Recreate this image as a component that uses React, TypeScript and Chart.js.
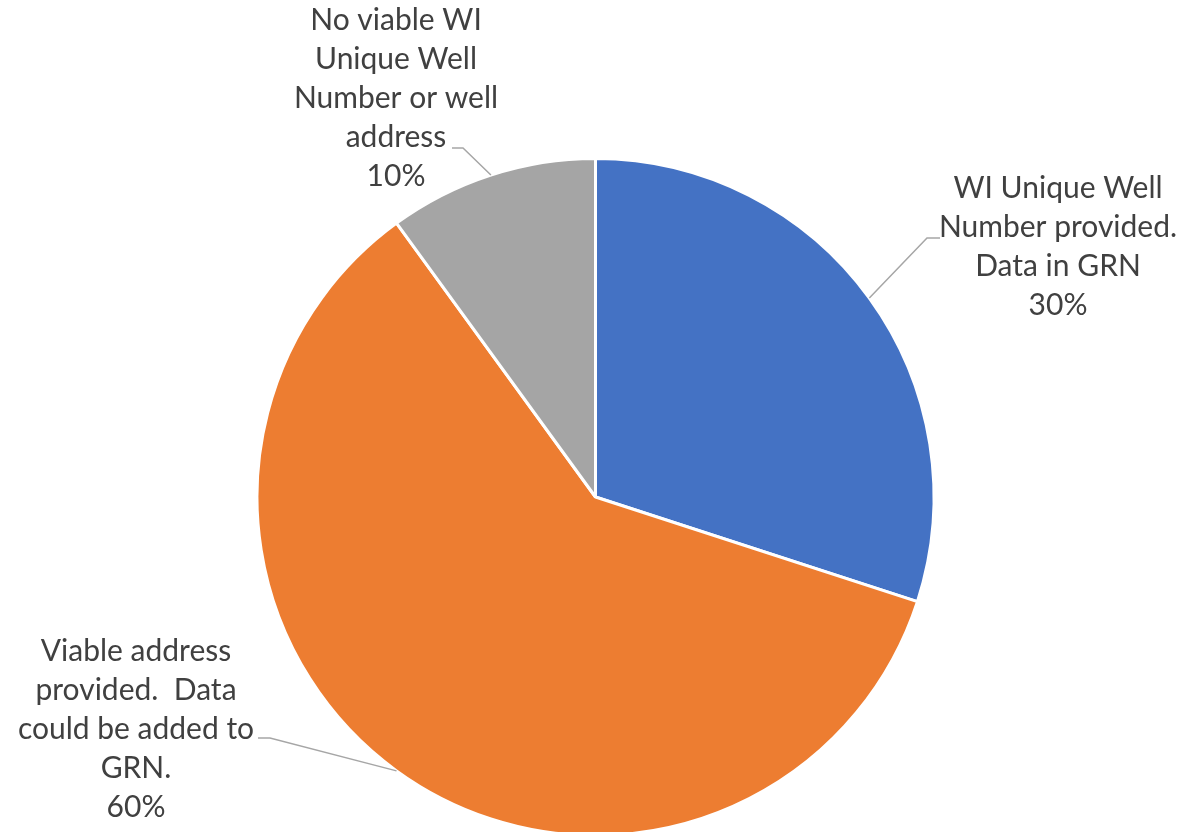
import React, { useEffect, useRef } from "react";
import { Chart, registerables } from "chart.js";

Chart.register(...registerables);

// ---- data ----
const categoryLines: string[][] = [
  ["WI Unique Well", "Number provided.", "Data in GRN"],
  ["Viable address", "provided.  Data", "could be added to", "GRN."],
  ["No viable WI", "Unique Well", "Number or well", "address"],
];
const sliceValues: number[] = [30, 60, 10];
const sliceColors: string[] = ["#4472C4", "#ED7D31", "#A5A5A5"];

// ---- label layout (positions of the data labels and leader elbows) ----
const labelCenterX: number[] = [1058, 136, 396];
const labelFirstLineY: number[] = [188, 651, 20];
const leaderAnchor: [number, number][] = [
  [940, 238],
  [258, 738],
  [452, 148],
];
const leaderElbow: [number, number][] = [
  [927, 238],
  [270, 738],
  [463, 148],
];
const LINE_HEIGHT = 39;
const FONT = "30px Lato";

const labelPlugin = {
  id: "pieLabels",
  afterDatasetsDraw(chart: any) {
    const ctx = chart.ctx as CanvasRenderingContext2D;
    const meta = chart.getDatasetMeta(0);
    const total = sliceValues.reduce((a, b) => a + b, 0);
    ctx.save();
    meta.data.forEach((arc: any, i: number) => {
      const p = arc.getProps(["x", "y", "startAngle", "endAngle", "outerRadius"], true);
      const mid = (p.startAngle + p.endAngle) / 2;
      const ex = p.x + Math.cos(mid) * p.outerRadius;
      const ey = p.y + Math.sin(mid) * p.outerRadius;
      ctx.strokeStyle = "#A6A6A6";
      ctx.lineWidth = 1.5;
      ctx.beginPath();
      ctx.moveTo(ex, ey);
      ctx.lineTo(leaderElbow[i][0], leaderElbow[i][1]);
      ctx.lineTo(leaderAnchor[i][0], leaderAnchor[i][1]);
      ctx.stroke();

      const lines = [...categoryLines[i], Math.round((sliceValues[i] / total) * 100) + "%"];
      ctx.fillStyle = "#404040";
      ctx.font = FONT;
      ctx.textAlign = "center";
      ctx.textBaseline = "middle";
      lines.forEach((t, k) => {
        ctx.fillText(t, labelCenterX[i], labelFirstLineY[i] + k * LINE_HEIGHT);
      });
    });
    ctx.restore();
  },
};

export default function App() {
  const ref = useRef<HTMLCanvasElement | null>(null);
  useEffect(() => {
    if (!ref.current) return;
    const chart = new Chart(ref.current, {
      type: "pie",
      data: {
        labels: categoryLines.map((l) => l.join(" ")),
        datasets: [
          {
            data: sliceValues,
            backgroundColor: sliceColors,
            borderColor: "#FFFFFF",
            borderWidth: 3,
          },
        ],
      },
      options: {
        animation: false,
        responsive: false,
        devicePixelRatio: 1,
        layout: { padding: { left: 255.5, right: 246.5, top: 157, bottom: 3 } },
        plugins: { legend: { display: false }, tooltip: { enabled: false } },
      },
      plugins: [labelPlugin],
    });
    return () => chart.destroy();
  }, []);
  return (
    <div style={{ position: "absolute", left: 0, top: 0, width: 1182, height: 832, overflow: "hidden", background: "#fff" }}>
      <canvas ref={ref} width={1182} height={840} style={{ width: 1182, height: 840, display: "block" }} />
    </div>
  );
}
